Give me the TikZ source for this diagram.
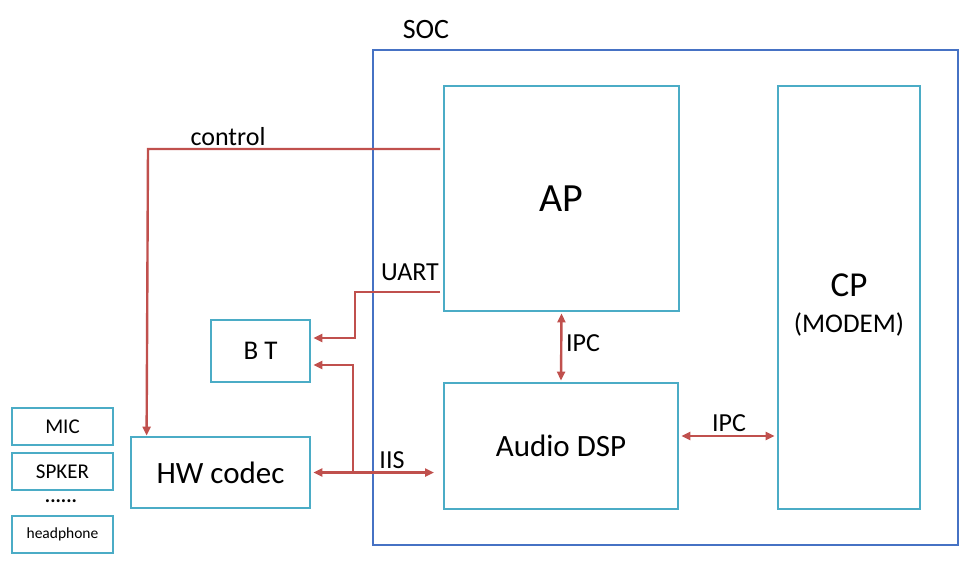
\documentclass[tikz,border=0pt]{standalone}
\usepackage{fontspec}
\setmainfont{Carlito}
\usetikzlibrary{arrows.meta,calc}
\definecolor{boxc}{RGB}{75,172,198}
\definecolor{socc}{RGB}{70,114,196}
\definecolor{redc}{RGB}{192,80,77}
\newcommand{\fs}[1]{\fontsize{#1}{#1}\selectfont}
\tikzset{
  blk/.style={draw=boxc,line width=2.8pt,rectangle,inner sep=0pt,fill=white},
  soc/.style={draw=socc,line width=2.5pt,rectangle,inner sep=0pt},
  lbl/.style={inner sep=0pt,text=black},
  rl/.style={draw=redc,line width=2.4pt},
  tip/.style={-{Triangle[length=9pt,width=8pt]}},
  dtip/.style={{Triangle[length=9pt,width=8pt]}-{Triangle[length=9pt,width=8pt]}}
}
\begin{document}
\begin{tikzpicture}[x=1pt,y=-1pt]
\useasboundingbox (0,0) rectangle (972,566);
\node[soc,minimum width=585pt,minimum height=495pt] (SOC) at (665.5,297.5) {};
\node[lbl,font=\fs{28}] (soclbl) at (426,30) {SOC};
\node[blk,minimum width=235pt,minimum height=225pt,font=\fs{40}] (AP) at (561.5,198.5) {AP};
\node[blk,minimum width=142pt,minimum height=423pt] (CP) at (849,297.5) {};
\node[lbl,font=\fs{35}] (cpt) at (849,285) {CP};
\node[lbl,font=\fs{27}] (cpm) at (849,324) {(MODEM)};
\node[blk,minimum width=234pt,minimum height=126pt,font=\fs{31}] (DSP) at (561,446) {Audio DSP};
\node[blk,minimum width=99pt,minimum height=62pt,font=\fs{27}] (BT) at (260.5,351) {B T};
\node[blk,minimum width=179pt,minimum height=71pt,font=\fs{31}] (HW) at (220.5,472.5) {HW codec};
\node[blk,minimum width=101pt,minimum height=37pt,font=\fs{21}] (MIC) at (62.5,426.5) {MIC};
\node[blk,minimum width=101pt,minimum height=37pt,font=\fs{21}] (SPK) at (62.5,471.5) {SPKER};
\node[lbl,font=\bfseries\fs{20}] (dots) at (61,501) {......};
\node[blk,minimum width=101pt,minimum height=37pt,font=\fs{15.5}] (HP) at (62.5,534.5) {headphone};
% control
\coordinate (c1) at (440,149);
\draw[rl,tip] (c1) -- (148,149) -- ([xshift=17pt]HW.north west);
\node[lbl,font=\fs{26}] (ctl) at (228,137) {control};
% UART
\coordinate (u1) at (440,292);
\draw[rl,tip] (u1) -- (355,292) |- ([xshift=2pt,yshift=13pt]BT.east);
\node[lbl,font=\fs{26}] (uart) at (410,272) {UART};
% IIS
\coordinate (i1) at (434,472.5);
\draw[rl,dtip] ([xshift=2pt]HW.east) -- (i1);
\coordinate (i2) at (353,472.5);
\draw[rl,tip] (i2) -- (353,365) -- ([xshift=2pt,yshift=-14pt]BT.east);
\node[lbl,font=\fs{26}] (iis) at (392,460) {IIS};
% IPC
\draw[rl,dtip] ([yshift=-1pt]AP.south) -- ([yshift=1pt]DSP.north);
\node[lbl,font=\fs{26}] (ipc1) at (583,343) {IPC};
\draw[rl,dtip] ([xshift=2pt,yshift=10pt]DSP.east) -- ([xshift=-2pt]CP.west |- 0,436);
\node[lbl,font=\fs{26}] (ipc2) at (729,423) {IPC};
\end{tikzpicture}
\end{document}
